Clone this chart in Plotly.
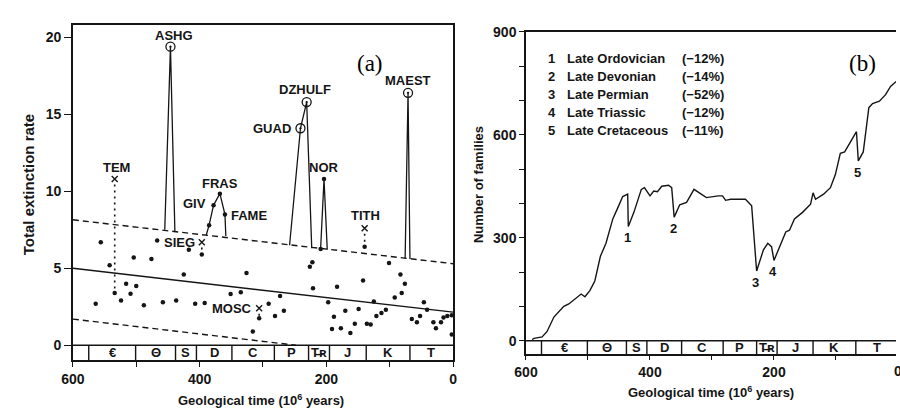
import plotly.graph_objects as go

# ---------------- (a) extinction rate per stage ----------------
stage_age = [564, 556, 542, 534, 524, 516, 509, 504, 500, 488, 476, 467, 458, 437,
             425, 417, 407, 396.5, 392, 351, 335, 326, 316, 306, 291, 281, 273, 267,
             226, 222, 221, 197, 191, 188, 183, 177, 170, 162, 155, 149, 142, 139.5,
             136, 130, 125, 121, 113, 106, 101, 92, 83, 81, 76, 65, 57, 52, 46, 41,
             31, 27, 19, 15, 9, 2, 2]
stage_rate = [2.7, 6.7, 5.2, 3.4, 2.9, 4.0, 3.35, 5.7, 3.85, 2.6, 5.6, 6.8, 2.8, 2.9,
              4.6, 6.2, 2.7, 5.9, 2.75, 3.33, 3.45, 4.7, 0.9, 1.75, 2.7, 1.9, 3.2, 2.25,
              5.1, 5.4, 3.7, 2.8, 1.05, 1.85, 3.8, 1.1, 2.25, 0.8, 1.4, 2.35, 4.2, 6.4,
              1.4, 1.35, 2.85, 1.9, 2.1, 2.3, 5.35, 3.1, 4.6, 3.4, 4.0, 1.7, 1.5, 1.9,
              2.8, 2.3, 1.5, 1.1, 1.5, 1.8, 1.9, 1.95, 0.7]

# runs of stages that rise above the upper confidence line
ashg_age, ashg_rate = [455, 446, 439], [7.5, 19.4, 7.35]
dev_age, dev_rate = [389.6, 385, 378, 368, 360, 358.6], [7.15, 7.8, 9.1, 9.85, 8.5, 7.1]
perm_age, perm_rate = [258, 240.8, 231, 223], [6.5, 14.1, 15.8, 6.3]
nor_age, nor_rate = [209, 203.6, 198.5], [6.25, 10.8, 6.2]
maest_age, maest_rate = [75.6, 71, 68], [5.6, 16.4, 5.6]

# named peaks
circled_name = ["ASHG", "GUAD", "DZHULF", "MAEST"]
circled_age = [446, 240.8, 231, 71]
circled_rate = [19.4, 14.1, 15.8, 16.4]
dot_name = ["", "GIV", "FRAS", "FAME", "", "NOR"]
dot_age = [385, 378, 368, 360, 209, 203.6]
dot_rate = [7.8, 9.1, 9.85, 8.5, 6.25, 10.8]

# stages shown with a cross, linked by a dotted stem
cross_name = ["TEM", "SIEG", "MOSC", "TITH"]
cross_age = [534, 396.5, 306, 139.5]
cross_rate = [10.8, 6.7, 2.4, 7.6]
cross_base = [3.4, 5.9, 1.75, 6.4]

# regression line and confidence limits
trend_age = [600, 0]
trend_mid = [5.0, 2.15]
trend_upper = [8.15, 5.3]
lower_age = [600, 248]
lower_rate = [1.7, 0.0]

# ---------------- geological periods ----------------
period_bounds = [600, 575, 501, 438, 405, 349, 282, 228, 195, 137, 68, 0]
period_label = ["", "€", "Θ", "S", "D", "C", "P", "T̶ʀ", "J", "K", "T"]

# ---------------- (b) number of marine families ----------------
div_age = [590, 587, 574, 566, 555, 547, 539, 531, 521, 511, 505, 497, 489, 480, 471,
           460, 452, 444, 436, 435, 426, 414, 409, 400, 394, 388, 381, 370, 365, 361,
           352, 341, 329, 317, 309, 290, 283, 278, 270, 246, 236, 228, 217, 210, 204,
           200, 191, 181, 175, 167, 154, 141, 137, 133, 120, 109, 101, 93, 86, 78, 67,
           64, 56, 47, 41, 30, 20, 12, 3]
div_count = [3, 7, 11, 27, 69, 84, 100, 107, 122, 136, 128, 146, 174, 246, 284,
             355, 387, 420, 427, 333, 374, 441, 446, 422, 436, 434, 450, 453, 446, 360,
             396, 403, 441, 427, 417, 422, 422, 409, 412, 412, 393, 203, 265, 284, 274,
             234, 274, 317, 322, 355, 374, 398, 431, 412, 427, 446, 484, 546, 550, 574, 609,
             524, 550, 679, 691, 698, 717, 741, 755]

event_num = ["1", "2", "3", "4", "5"]
event_name = ["Late Ordovician", "Late Devonian", "Late Permian", "Late Triassic",
              "Late Cretaceous"]
event_pct = ["(−12%)", "(−14%)", "(−52%)", "(−12%)", "(−11%)"]
event_age = [435, 361, 228, 200, 64]
event_count = [333, 360, 203, 234, 524]

INK = "#151515"
SANS = "Liberation Sans, Arial, sans-serif"
SERIF = "Liberation Serif, Times New Roman, serif"
W, H = 900, 412


def px(v):
    return v / W


def py(v):
    return 1 - v / H


fig = go.Figure()

line_style = dict(color=INK, width=1.4)

# (a) regression and confidence lines
fig.add_trace(go.Scatter(x=trend_age, y=trend_mid, mode="lines", line=line_style,
                         xaxis="x", yaxis="y"))
fig.add_trace(go.Scatter(x=trend_age, y=trend_upper, mode="lines",
                         line=dict(color=INK, width=1.4, dash="6px,4px"),
                         xaxis="x", yaxis="y"))
fig.add_trace(go.Scatter(x=lower_age, y=lower_rate, mode="lines",
                         line=dict(color=INK, width=1.4, dash="6px,4px"),
                         xaxis="x", yaxis="y"))

# (a) peak runs
for a, r in [(ashg_age, ashg_rate), (dev_age, dev_rate), (perm_age, perm_rate),
             (nor_age, nor_rate), (maest_age, maest_rate)]:
    fig.add_trace(go.Scatter(x=a, y=r, mode="lines", line=dict(color=INK, width=1.3),
                             xaxis="x", yaxis="y"))

# (a) dotted stems under crosses
for a, top, base in zip(cross_age, cross_rate, cross_base):
    fig.add_trace(go.Scatter(x=[a, a], y=[top - 0.35, base], mode="lines",
                             line=dict(color=INK, width=1.6, dash="2px,4px"),
                             xaxis="x", yaxis="y"))

# (a) background stages
fig.add_trace(go.Scatter(x=stage_age, y=stage_rate, mode="markers",
                         marker=dict(color=INK, size=4.5), xaxis="x", yaxis="y"))
fig.add_trace(go.Scatter(x=dot_age, y=dot_rate, mode="markers",
                         marker=dict(color=INK, size=4.5), xaxis="x", yaxis="y"))
fig.add_trace(go.Scatter(x=circled_age, y=circled_rate, mode="markers",
                         marker=dict(symbol="circle-open-dot", color=INK, size=9,
                                     line=dict(width=1.3, color=INK)),
                         xaxis="x", yaxis="y"))
fig.add_trace(go.Scatter(x=cross_age, y=cross_rate, mode="markers",
                         marker=dict(symbol="x-thin", color=INK, size=6,
                                     line=dict(width=1.4, color=INK)),
                         xaxis="x", yaxis="y"))

# (b) diversity curve
fig.add_trace(go.Scatter(x=div_age, y=div_count, mode="lines",
                         line=dict(color=INK, width=1.4), xaxis="x2", yaxis="y2"))

shapes = []
annotations = []

# period strips along both time axes
for xa, ya, ylow in [("x", "y", -0.96), ("x2", "y2", -40)]:
    shapes.append(dict(type="line", xref=xa, yref=ya, x0=600, x1=0, y0=0, y1=0,
                       line=dict(color=INK, width=1.5)))
    for b in period_bounds[1:-1]:
        shapes.append(dict(type="line", xref=xa, yref=ya, x0=b, x1=b, y0=0, y1=ylow,
                           line=dict(color=INK, width=1.4)))
    for i, lab in enumerate(period_label):
        if not lab:
            continue
        mid = (period_bounds[i] + period_bounds[i + 1]) / 2
        annotations.append(dict(x=mid, y=ylow / 2, xref=xa, yref=ya, text=lab,
                                showarrow=False, font=dict(size=13, color=INK),
                                xanchor="center", yanchor="middle"))

# (a) peak labels
lab_font = dict(size=13, color=INK)
offsets = {
    "ASHG": (4, 11, "center"), "GUAD": (-7, 0, "right"), "DZHULF": (-2, 13, "center"),
    "MAEST": (0, 12.5, "center"), "GIV": (-6, 2, "right"), "FRAS": (0, 10, "center"),
    "FAME": (4, -1, "left"), "NOR": (0, 12, "center"), "TEM": (2, 12, "center"),
    "SIEG": (-5, 0, "right"), "MOSC": (-5, 0, "right"), "TITH": (1, 13, "center"),
}
for names, ages, rates in [(circled_name, circled_age, circled_rate),
                           (dot_name, dot_age, dot_rate),
                           (cross_name, cross_age, cross_rate)]:
    for n, a, r in zip(names, ages, rates):
        if not n:
            continue
        dx, dy, anc = offsets[n]
        annotations.append(dict(x=a, y=r, xref="x", yref="y", text=n, showarrow=False,
                                font=lab_font, xanchor=anc, yanchor="middle",
                                xshift=dx, yshift=dy))

# (b) event numbers under the dips
for n, a, c in zip(event_num, event_age, event_count):
    annotations.append(dict(x=a, y=c, xref="x2", yref="y2", text=n, showarrow=False,
                            font=lab_font, xanchor="center", yanchor="middle",
                            xshift=-1, yshift=-11.5))

# (b) event list
for i, (n, name, pct) in enumerate(zip(event_num, event_name, event_pct)):
    yy = py(51.7 + i * 18.4)
    annotations.append(dict(x=px(543.5), y=yy, xref="paper", yref="paper", text=n,
                            showarrow=False, font=lab_font, xanchor="left",
                            yanchor="middle"))
    annotations.append(dict(x=px(562.5), y=yy, xref="paper", yref="paper", text=name,
                            showarrow=False, font=lab_font, xanchor="left",
                            yanchor="middle"))
    annotations.append(dict(x=px(680), y=yy, xref="paper", yref="paper", text=pct,
                            showarrow=False, font=lab_font, xanchor="left",
                            yanchor="middle"))

# panel letters
annotations.append(dict(x=px(364), y=py(57), xref="paper", yref="paper", text="(a)",
                        showarrow=False, font=dict(family=SERIF, size=23, color="#000",
                                                   weight="normal"),
                        xanchor="center", yanchor="middle"))
annotations.append(dict(x=px(866), y=py(57), xref="paper", yref="paper", text="(b)",
                        showarrow=False, font=dict(family=SERIF, size=23, color="#000",
                                                   weight="normal"),
                        xanchor="center", yanchor="middle"))

# axis titles
xtitle = "Geological time (10<sup>6</sup> years)"
annotations.append(dict(x=px(253), y=py(400), xref="paper", yref="paper", text=xtitle,
                        showarrow=False, font=dict(size=13, color=INK),
                        xanchor="center", yanchor="middle"))
annotations.append(dict(x=px(712), y=py(391.5), xref="paper", yref="paper", text=xtitle,
                        showarrow=False, font=dict(size=13, color=INK),
                        xanchor="center", yanchor="middle"))
annotations.append(dict(x=px(17), y=py(180), xref="paper", yref="paper",
                        text="Total extinction rate", textangle=-90, showarrow=False,
                        font=dict(size=15, color=INK), xanchor="center",
                        yanchor="middle"))
annotations.append(dict(x=px(475), y=py(180), xref="paper", yref="paper",
                        text="Number of families", textangle=-90, showarrow=False,
                        font=dict(size=13, color=INK), xanchor="center",
                        yanchor="middle"))
# last time label of panel (b) sits on the page edge
annotations.append(dict(x=px(902), y=py(370), xref="paper", yref="paper", text="0",
                        showarrow=False, font=dict(size=14, color=INK),
                        xanchor="center", yanchor="middle"))

axis_common = dict(showgrid=False, zeroline=False, showline=True, linecolor=INK,
                   linewidth=1.5, ticks="outside", tickcolor=INK, tickwidth=1.4,
                   tickfont=dict(size=14, color=INK))

fig.update_layout(
    width=W, height=H, margin=dict(l=0, r=0, t=0, b=0),
    paper_bgcolor="white", plot_bgcolor="white", showlegend=False,
    font=dict(family=SANS, color=INK, weight="bold"),
    xaxis=dict(axis_common, domain=[px(62), px(449)], range=[600, 0], anchor="y",
               mirror=True, ticklen=5,
               tickvals=[600, 500, 400, 300, 200, 100, 0],
               ticktext=["600", "", "400", "", "200", "", "0"]),
    yaxis=dict(axis_common, domain=[py(359), py(17)], range=[-0.96, 20.83], anchor="x",
               mirror=True, ticklen=7, tickvals=[0, 5, 10, 15, 20]),
    xaxis2=dict(axis_common, domain=[px(523.3), 1], range=[600, 3.2], anchor="y2",
                mirror=True, ticklen=4,
                tickvals=[600, 500, 400, 300, 200, 100],
                ticktext=["600", "", "400", "", "200", ""]),
    yaxis2=dict(axis_common, domain=[py(353.3), py(24.3)], range=[-40, 900],
                anchor="x2", mirror=False, ticklen=5,
                tickvals=[0, 100, 200, 300, 400, 500, 600, 700, 800, 900],
                ticktext=["0", "", "", "300", "", "", "600", "", "", "900"]),
    shapes=shapes, annotations=annotations,
)

fig.write_html("out.html")
